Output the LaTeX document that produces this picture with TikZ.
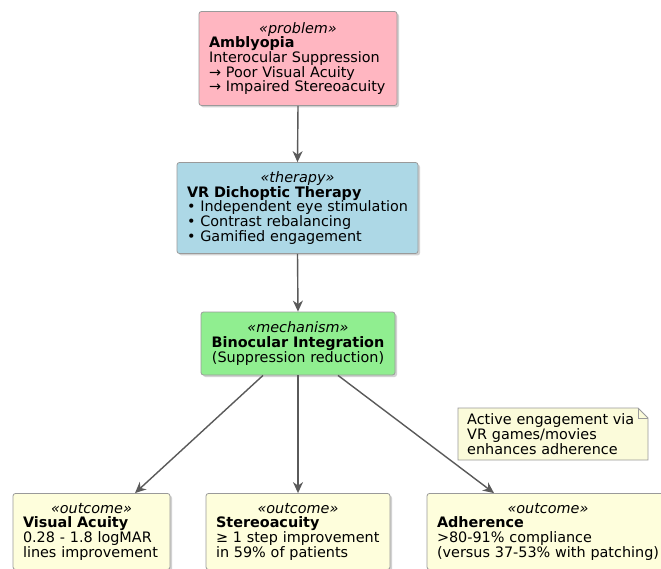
\documentclass[tikz,border=0pt]{standalone}
\usepackage{fontspec}
\setmainfont{DejaVu Sans}
\usetikzlibrary{arrows.meta,shadows,calc}
\definecolor{pinkfill}{HTML}{FFB6C1}
\definecolor{bluefill}{HTML}{ADD8E6}
\definecolor{greenfill}{HTML}{90EE90}
\definecolor{yelfill}{HTML}{FEFEDC}
\definecolor{notefill}{HTML}{FBFBDA}
\definecolor{edgecol}{HTML}{5A5A5A}
\definecolor{bordercol}{HTML}{9A9A9A}
\newcommand{\boxfont}{\fontsize{14.4}{14.7}\selectfont}
\tikzset{
  boxbase/.style={draw=bordercol, line width=0.8pt, rounded corners=2.5pt,
    align=left, inner xsep=7pt, inner ysep=0pt, font=\boxfont,
    drop shadow={shadow xshift=2pt, shadow yshift=-2pt, fill=black!35, opacity=0.5}},
  probbox/.style={boxbase, fill=pinkfill},
  therbox/.style={boxbase, fill=bluefill},
  mechbox/.style={boxbase, fill=greenfill},
  outbox/.style={boxbase, fill=yelfill},
  notebox/.style={align=left, inner xsep=9pt, inner ysep=0pt, font=\boxfont},
  noteline/.style={draw=bordercol, line width=0.8pt},
  flow/.style={draw=edgecol, line width=1.4pt,
    -{Stealth[length=11pt,width=10pt,inset=3.5pt]}}
}
\newcommand{\stereo}[1]{\makebox[\linewidth]{\itshape «#1»}}
\newcommand{\padl}{\hspace*{3pt}}
\begin{document}
\begin{tikzpicture}[x=1pt,y=-1pt]
\clip (0,0) rectangle (661,569);
\fill[white] (0,0) rectangle (661,569);

\node[probbox, text width=184pt, minimum height=94pt] (prob) at (298,58.5)
  {\stereo{problem}\\\padl\textbf{Amblyopia}\\\padl Interocular Suppression\\\padl→ Poor Visual Acuity\\\padl→ Impaired Stereoacuity};

\node[therbox, text width=227pt, minimum height=91pt] (ther) at (297.5,208)
  {\stereo{therapy}\\\padl\textbf{VR Dichoptic Therapy}\\\padl• Independent eye stimulation\\\padl• Contrast rebalancing\\\padl• Gamified engagement};

\node[mechbox, text width=180pt, minimum height=63pt] (mech) at (298,343.5)
  {\stereo{mechanism}\\\makebox[\linewidth]{\textbf{Binocular Integration}}\\\makebox[\linewidth]{(Suppression reduction)}};

\node[outbox, text width=143pt, minimum height=76pt] (va) at (91.5,531.5)
  {\stereo{outcome}\\\padl\textbf{Visual Acuity}\\\padl 0.28 - 1.8 logMAR\\\padl lines improvement};

\node[outbox, text width=170pt, minimum height=76pt] (st) at (298,531.5)
  {\stereo{outcome}\\\padl\textbf{Stereoacuity}\\\padl≥ 1 step improvement\\\padl in 59\% of patients};

\node[outbox, text width=228pt, minimum height=76pt] (ad) at (548,531.5)
  {\stereo{outcome}\\\padl\textbf{Adherence}\\\padl>80-91\% compliance\\\padl(versus 37-53\% with patching)};

\coordinate (nnw) at (458,408);
\coordinate (nse) at (648,460);
\path[fill=notefill, noteline]
  (nnw) -- ([xshift=-10pt]nse |- nnw) -- ([yshift=-10pt]nse |- nnw) -- (nse) -- (nnw |- nse) -- cycle;
\draw[noteline] ([xshift=-10pt]nse |- nnw) -- ([xshift=-10pt,yshift=-10pt]nse |- nnw) -- ([yshift=-10pt]nse |- nnw);
\node[notebox, text width=176pt, anchor=west] (note) at ($(nnw)!0.5!(nnw |- nse)$)
  {Active engagement via\\VR games/movies\\enhances adherence};

\draw[flow] (prob.south) -- (ther.north);
\draw[flow] (ther.south) -- (mech.north);
\draw[flow] ([xshift=-35pt]mech.south) -- ([xshift=43.5pt]va.north);
\draw[flow] (mech.south) -- (st.north);
\draw[flow] ([xshift=40pt]mech.south) -- ([xshift=-54pt]ad.north);
\end{tikzpicture}
\end{document}
